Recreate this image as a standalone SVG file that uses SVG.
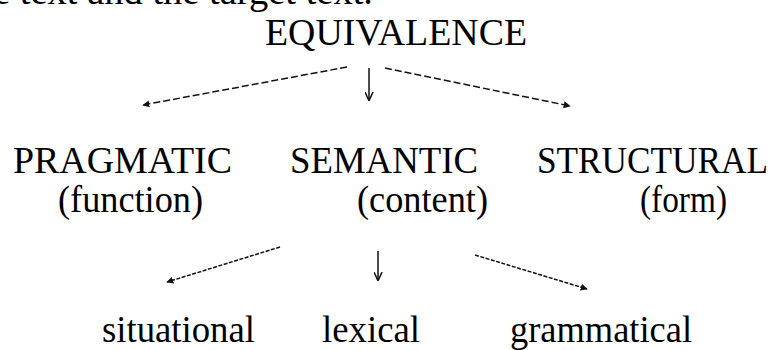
<svg xmlns="http://www.w3.org/2000/svg" width="782" height="350" viewBox="0 0 782 350">
<style>
  text { font-family: "Liberation Serif", "Times New Roman", serif; font-size: 38.5px; fill: #000; }
  .edge { stroke: #111; stroke-width: 1.5; fill: none; }
  .dash1 { stroke-dasharray: 7 3; }
  .dash2 { stroke-dasharray: 4 1.5; }
</style>
<defs>
  <marker id="ah" viewBox="0 0 10 10" refX="9" refY="5" markerWidth="7" markerHeight="7" markerUnits="userSpaceOnUse" orient="auto">
    <path d="M0,0 L10,5 L0,10 z" fill="#111"/>
  </marker>
  <marker id="ahv" viewBox="0 0 10 10" refX="9" refY="5" markerWidth="9" markerHeight="9" markerUnits="userSpaceOnUse" orient="auto">
    <path d="M0,0.5 L10,5 L0,9.5" fill="none" stroke="#111" stroke-width="1.6"/>
  </marker>
</defs>
<rect width="782" height="350" fill="#fff"/>
<text x="373" y="4" text-anchor="end">e text and the target text.</text>
<g id="equivalence"><text x="265" y="45" textLength="262" lengthAdjust="spacingAndGlyphs">EQUIVALENCE</text></g>
<g id="pragmatic">
  <text x="13" y="173" textLength="219" lengthAdjust="spacingAndGlyphs">PRAGMATIC</text>
  <text x="58" y="212" textLength="145" lengthAdjust="spacingAndGlyphs">(function)</text>
</g>
<g id="semantic">
  <text x="290" y="173" textLength="188" lengthAdjust="spacingAndGlyphs">SEMANTIC</text>
  <text x="357" y="212" textLength="131" lengthAdjust="spacingAndGlyphs">(content)</text>
</g>
<g id="structural">
  <text x="537" y="173" textLength="231" lengthAdjust="spacingAndGlyphs">STRUCTURAL</text>
  <text x="640" y="212" textLength="87" lengthAdjust="spacingAndGlyphs">(form)</text>
</g>
<g id="situational"><text x="102" y="342" textLength="153" lengthAdjust="spacingAndGlyphs">situational</text></g>
<g id="lexical"><text x="322" y="342" textLength="98" lengthAdjust="spacingAndGlyphs">lexical</text></g>
<g id="grammatical"><text x="510" y="342" textLength="182" lengthAdjust="spacingAndGlyphs">grammatical</text></g>
<g id="connectors">
  <line class="edge dash1" x1="347" y1="67" x2="143" y2="105" marker-end="url(#ah)"/>
  <line class="edge" x1="369" y1="68" x2="369" y2="100" marker-end="url(#ahv)"/>
  <line class="edge dash1" x1="385" y1="68" x2="570" y2="106" marker-end="url(#ah)"/>
  <line class="edge dash2" x1="280" y1="247" x2="167" y2="282" marker-end="url(#ah)"/>
  <line class="edge" x1="378" y1="251" x2="378" y2="280" marker-end="url(#ahv)"/>
  <line class="edge dash2" x1="475" y1="255" x2="587" y2="289" marker-end="url(#ah)"/>
</g>
</svg>
